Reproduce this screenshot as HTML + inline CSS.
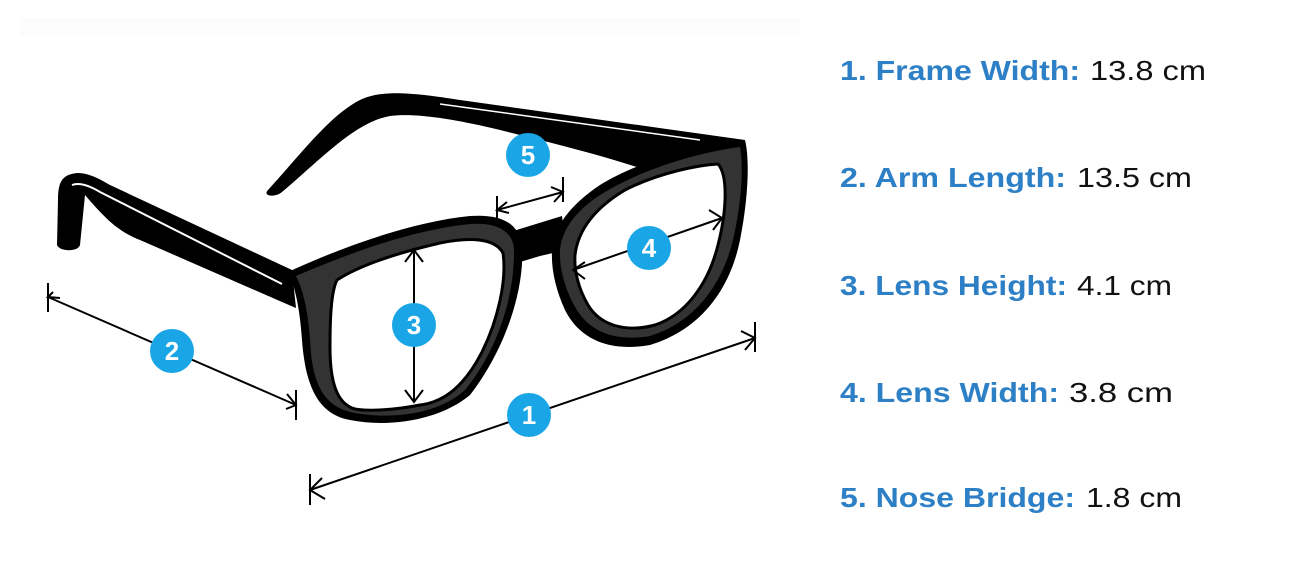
<!DOCTYPE html>
<html><head><meta charset="utf-8"><style>
html,body{margin:0;padding:0;background:#fff;}
svg{display:block;}
</style></head><body>
<svg width="1292" height="573" viewBox="0 0 1292 573" xmlns="http://www.w3.org/2000/svg">
<rect x="20" y="18" width="780" height="18" fill="#fcfcfc"/>
<!-- far arm -->
<path d="M268,190 C300,155 330,115 360,100 C380,90 410,92 460,100 L745,140 L742,165 L640,168 C600,155 560,145 520,135 C470,122 420,112 390,116 C355,122 320,160 282,192 C275,198 262,196 268,190 Z" fill="#000"/>
<path d="M440,104 L700,140" stroke="#fff" stroke-width="1.5"/>
<!-- near arm -->
<path d="M57,245 L58,200 C58,182 62,174 78,173 C88,173 98,178 110,185 L292,270 L296,308 L282,302 L140,240 C120,232 108,222 85,195 L80,245 C78,252 60,252 57,245 Z" fill="#000"/>
<path d="M72,185 C80,182 90,186 100,192 L282,284" stroke="#fff" stroke-width="2" fill="none"/>
<!-- bridge -->
<path d="M510,232 L562,216 L566,250 L540,256 L520,262 Z" fill="#000"/>
<!-- left frame -->
<path d="M288,272 C340,248 410,222 470,216 C500,214 518,222 522,245 C525,290 505,350 470,395 C440,420 390,428 350,420 C315,414 305,380 302,340 C300,310 295,285 288,272 Z" fill="#000"/>
<path d="M296,276 C345,255 410,230 470,224 C495,222 512,230 514,248 C515,295 498,350 465,390 C440,413 395,420 355,413 C320,407 312,378 310,340 C308,310 303,290 296,276 Z" fill="#333"/>
<path d="M337,280 C360,265 397,253 440,243 C470,237 495,238 503,253 C507,280 498,320 482,352 C465,385 445,402 420,405 C400,409 370,412 355,409 C336,404 330,380 330,347 C330,310 332,290 337,280 Z" fill="#fff" stroke="#000" stroke-width="3"/>
<!-- right frame -->
<path d="M552,250 C553,228 570,205 600,185 C640,160 700,145 745,140 C750,160 748,200 740,240 C730,290 700,330 650,345 C610,352 580,340 565,310 C556,290 551,270 552,250 Z" fill="#000"/>
<path d="M560,250 C562,228 578,208 605,192 C645,168 700,152 740,147 C744,170 741,205 733,240 C722,285 695,322 650,336 C615,342 588,332 574,305 C565,288 559,268 560,250 Z" fill="#333"/>
<path d="M575,255 C578,230 595,208 625,190 C660,172 700,165 718,164 C728,175 727,210 718,245 C708,285 685,315 655,325 C625,333 600,325 588,305 C578,288 574,270 575,255 Z" fill="#fff" stroke="#000" stroke-width="3"/>
<!-- arrows -->
<g stroke="#000" stroke-width="2" fill="none">
<path d="M310,490 L755,338"/><path d="M310,474 L310,505 M322,478 L310,490 L325,499 M755,322 L755,352 M741,331 L755,338 L745,350"/>
<path d="M48,297 L296,405"/><path d="M48,283 L48,312 M53,292 L48,297 L60,298 M296,390 L296,420 M287,394 L296,405 L286,409"/>
<path d="M414,250 L414,402"/><path d="M405,262 L414,250 L423,262 M405,390 L414,402 L423,390"/>
<path d="M573,270 L722,218"/><path d="M585,262 L573,270 L585,279 M709,210 L722,218 L713,230"/>
<path d="M497,210 L563,192"/><path d="M497,196 L497,218 M563,177 L563,202 M507,202 L497,210 L509,213 M551,187 L563,192 L554,202"/>
</g>
<!-- badges -->
<g fill="#1aa6e6">
<circle cx="529" cy="415" r="22"/><circle cx="172" cy="351" r="22"/><circle cx="414" cy="325" r="22"/><circle cx="649" cy="248" r="22"/><circle cx="528" cy="155" r="22"/>
</g>
<g fill="#fff" font-family="Liberation Sans, sans-serif" font-weight="bold" font-size="26" text-anchor="middle">
<text x="529" y="424">1</text><text x="172" y="360">2</text><text x="414" y="334">3</text><text x="649" y="257">4</text><text x="528" y="164">5</text>
</g>
<!-- legend -->
<g font-family="Liberation Sans, sans-serif" font-size="28">
<text x="840" y="80" fill="#2d7fc6" font-weight="bold" textLength="240" lengthAdjust="spacingAndGlyphs">1. Frame Width:</text>
<text x="1090" y="80" fill="#111" textLength="116" lengthAdjust="spacingAndGlyphs">13.8 cm</text>
<text x="840" y="187" fill="#2d7fc6" font-weight="bold" textLength="226" lengthAdjust="spacingAndGlyphs">2. Arm Length:</text>
<text x="1077" y="187" fill="#111" textLength="115" lengthAdjust="spacingAndGlyphs">13.5 cm</text>
<text x="840" y="295" fill="#2d7fc6" font-weight="bold" textLength="227" lengthAdjust="spacingAndGlyphs">3. Lens Height:</text>
<text x="1077" y="295" fill="#111" textLength="95" lengthAdjust="spacingAndGlyphs">4.1 cm</text>
<text x="840" y="402" fill="#2d7fc6" font-weight="bold" textLength="219" lengthAdjust="spacingAndGlyphs">4. Lens Width:</text>
<text x="1069" y="402" fill="#111" textLength="104" lengthAdjust="spacingAndGlyphs">3.8 cm</text>
<text x="840" y="507" fill="#2d7fc6" font-weight="bold" textLength="235" lengthAdjust="spacingAndGlyphs">5. Nose Bridge:</text>
<text x="1086" y="507" fill="#111" textLength="96" lengthAdjust="spacingAndGlyphs">1.8 cm</text>
</g>
</svg>
</body></html>
